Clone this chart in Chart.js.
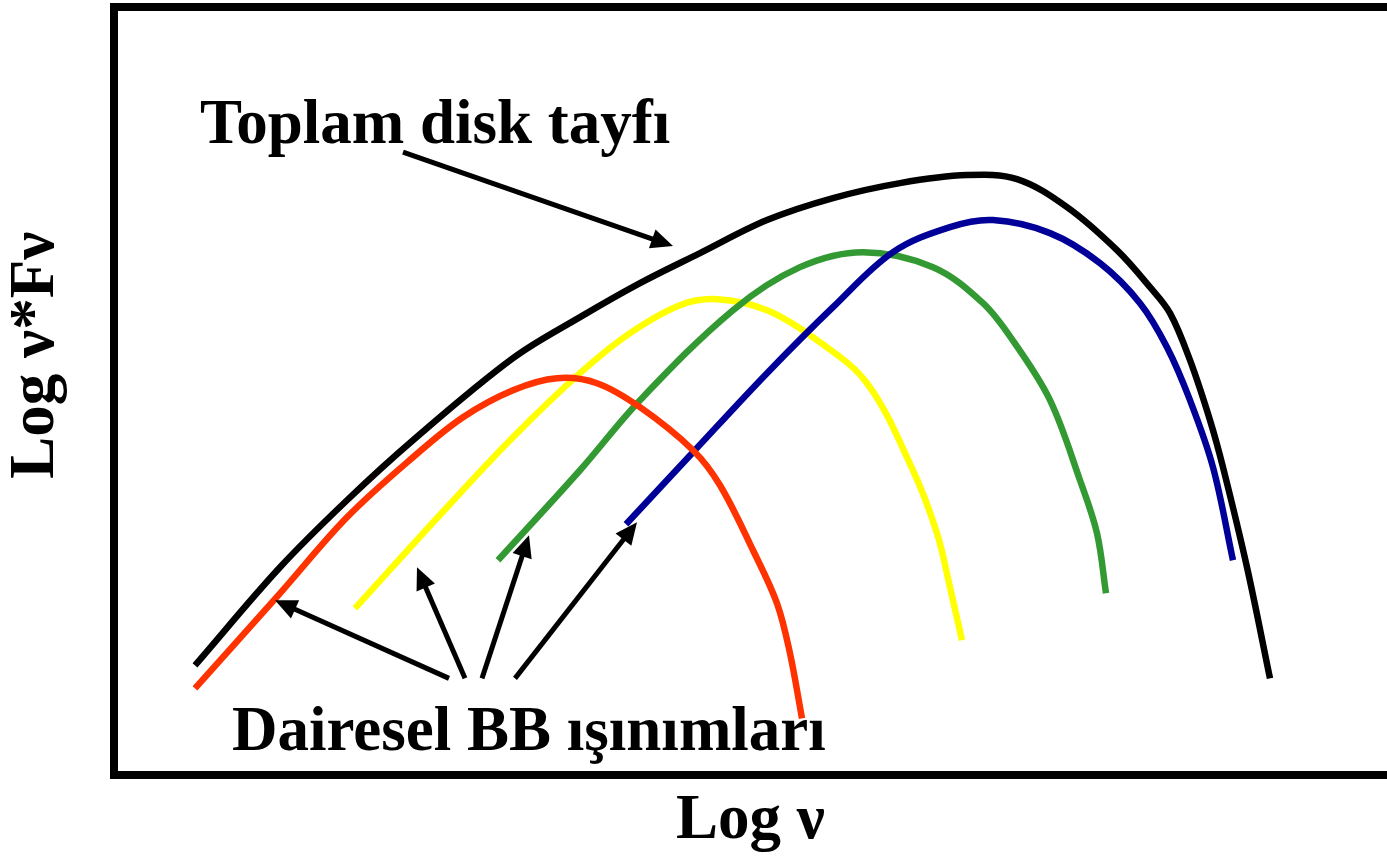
<!DOCTYPE html>
<html>
<head>
<meta charset="utf-8">
<script src="https://cdn.jsdelivr.net/npm/chart.js@4.4.1/dist/chart.umd.min.js"></script>
<style>
  html, body { margin: 0; padding: 0; background: #fff; overflow: hidden; }
  #wrap { width: 1387px; height: 860px; }
</style>
</head>
<body>
<div id="wrap"><canvas id="c" width="1387" height="860"></canvas></div>
<script>
// Data in arbitrary log units (x: log nu, y: log nu*F_nu)
const totalX  = [0.81,1.66,2.33,2.99,3.99,4.66,5.26,5.86,6.53,7.19,7.86,8.53,9.03,9.53,10.03,10.36,10.56,10.76,10.96,11.09,11.33,11.56];
const totalY  = [1.10,2.08,2.75,3.35,4.17,4.58,4.92,5.22,5.55,5.77,5.92,6.00,5.96,5.68,5.25,4.88,4.62,4.15,3.55,3.08,2.08,0.97];
const redX    = [0.81,1.66,2.33,2.99,3.49,3.99,4.43,4.83,5.26,5.79,6.06,6.39,6.63,6.76,6.88];
const redY    = [0.87,1.82,2.58,3.18,3.58,3.85,3.97,3.92,3.68,3.25,2.90,2.25,1.72,1.22,0.57];
const yellowX = [2.41,3.33,3.99,4.66,5.16,5.66,6.03,6.53,7.03,7.53,7.98,8.23,8.36,8.48];
const yellowY = [1.67,2.68,3.38,4.02,4.42,4.70,4.76,4.65,4.35,3.92,3.07,2.42,1.88,1.35];
const greenX  = [3.84,4.66,5.26,6.19,6.86,7.49,8.19,8.69,9.00,9.36,9.66,9.83,9.92];
const greenY  = [2.15,3.05,3.75,4.65,5.08,5.23,5.08,4.72,4.33,3.75,2.95,2.42,1.82];
const blueX   = [5.12,5.79,6.53,7.19,7.79,8.36,8.79,9.36,9.86,10.26,10.53,10.76,10.99,11.19];
const blueY   = [2.51,3.23,4.02,4.68,5.23,5.48,5.55,5.42,5.12,4.72,4.28,3.75,3.08,2.15];

const xTitle = 'Log ν';
const yTitle = 'Log ν*Fν';
const totalLabel = 'Toplam disk tayfı';
const bbLabel = 'Dairesel BB ışınımları';

// Arrow endpoints (tail -> tip) in data units
const arrowTailX = [2.89, 3.35, 3.51, 3.68, 4.01];
const arrowTailY = [6.23, 0.97, 0.97, 0.97, 0.97];
const arrowTipX  = [5.59, 1.61, 3.03, 4.15, 5.23];
const arrowTipY  = [5.29, 1.75, 2.08, 2.40, 2.53];

const pts = (xs, ys) => xs.map((x, i) => ({x: x, y: ys[i]}));
const FONT = '"Liberation Serif", "Times New Roman", serif';

const annot = {
  id: 'annot',
  afterDatasetsDraw(chart) {
    const {ctx, scales: {x, y}} = chart;
    ctx.save();
    ctx.fillStyle = '#000';
    ctx.strokeStyle = '#000';
    ctx.lineWidth = 5;
    ctx.lineCap = 'butt';
    for (let i = 0; i < arrowTailX.length; i++) {
      const x0 = x.getPixelForValue(arrowTailX[i]), y0 = y.getPixelForValue(arrowTailY[i]);
      const x1 = x.getPixelForValue(arrowTipX[i]),  y1 = y.getPixelForValue(arrowTipY[i]);
      const a = Math.atan2(y1 - y0, x1 - x0);
      const L = 22, W = 10;
      const bx = x1 - L * Math.cos(a), by = y1 - L * Math.sin(a);
      ctx.beginPath();
      ctx.moveTo(x0, y0);
      ctx.lineTo(bx + 2 * Math.cos(a), by + 2 * Math.sin(a));
      ctx.stroke();
      ctx.beginPath();
      ctx.moveTo(x1, y1);
      ctx.lineTo(bx - W * Math.sin(a), by + W * Math.cos(a));
      ctx.lineTo(bx + W * Math.sin(a), by - W * Math.cos(a));
      ctx.closePath();
      ctx.fill();
    }
    ctx.font = 'bold 63px ' + FONT;
    ctx.textBaseline = 'alphabetic';
    ctx.textAlign = 'left';
    ctx.fillText(totalLabel, x.getPixelForValue(0.86), y.getPixelForValue(6.32));
    ctx.fillText(bbLabel, x.getPixelForValue(1.18), y.getPixelForValue(0.25));
    // rotated y-axis title
    ctx.translate(37, y.getPixelForValue(4.2));
    ctx.rotate(-Math.PI / 2);
    ctx.textAlign = 'center';
    ctx.textBaseline = 'middle';
    ctx.fillText(yTitle, 0, 0);
    ctx.restore();
  }
};

const lineDs = (label, data, color, order) => ({
  label, data, borderColor: color, backgroundColor: color,
  borderWidth: 6.5, pointRadius: 0, fill: false,
  tension: 0.35, order
});

new Chart(document.getElementById('c'), {
  type: 'line',
  data: {
    datasets: [
      lineDs('Toplam', pts(totalX, totalY), '#000000', 0),
      lineDs('BB1', pts(redX, redY), '#FF3300', 1),
      lineDs('BB2', pts(yellowX, yellowY), '#FFFF00', 3),
      lineDs('BB3', pts(greenX, greenY), '#339933', 2),
      lineDs('BB4', pts(blueX, blueY), '#000099', 1)
    ]
  },
  options: {
    responsive: false,
    animation: false,
    events: [],
    layout: { padding: { left: 114, top: 7, right: 0, bottom: 0 } },
    plugins: { legend: { display: false }, tooltip: { enabled: false }, title: { display: false } },
    scales: {
      x: {
        type: 'linear', position: 'bottom', min: 0, max: 12.73,
        grid: { display: false, drawTicks: false },
        ticks: { display: false },
        border: { display: true, width: 8, color: '#000' },
        title: { display: true, text: xTitle, color: '#000',
                 font: { family: FONT, size: 63, weight: 'bold', lineHeight: 1.2 },
                 padding: { top: 9, bottom: 0 } }
      },
      x2: {
        type: 'linear', position: 'top', min: 0, max: 12.73,
        grid: { display: false, drawTicks: false },
        ticks: { display: false },
        border: { display: true, width: 8, color: '#000' }
      },
      y: {
        type: 'linear', position: 'left', min: 0, max: 7.68,
        grid: { display: false, drawTicks: false },
        ticks: { display: false },
        border: { display: true, width: 8, color: '#000' }
      }
    }
  },
  plugins: [annot]
});
</script>
</body>
</html>
